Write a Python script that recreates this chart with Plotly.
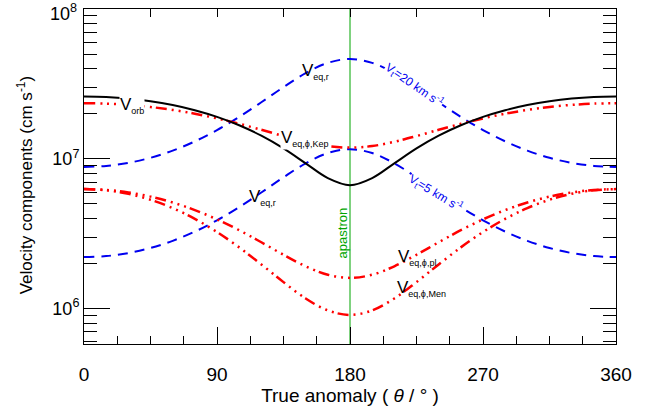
import math
import plotly.graph_objects as go

# ---------------- data ----------------
theta = [0, 15, 30, 45, 60, 75, 90, 105, 120, 135, 150, 165, 180,
         195, 210, 225, 240, 255, 270, 285, 300, 315, 330, 345, 360]

v_orb = [2.610e7, 2.589e7, 2.527e7, 2.425e7, 2.285e7, 2.110e7, 1.905e7, 1.675e7,
         1.427e7, 1.174e7, 9.334e6, 7.437e6, 6.668e6, 7.437e6, 9.334e6, 1.174e7,
         1.427e7, 1.675e7, 1.905e7, 2.110e7, 2.285e7, 2.425e7, 2.527e7, 2.589e7, 2.610e7]

v_kep = [2.350e7, 2.335e7, 2.291e7, 2.218e7, 2.120e7, 2.000e7, 1.862e7, 1.713e7,
         1.562e7, 1.419e7, 1.299e7, 1.217e7, 1.188e7, 1.217e7, 1.299e7, 1.419e7,
         1.562e7, 1.713e7, 1.862e7, 2.000e7, 2.120e7, 2.218e7, 2.291e7, 2.335e7, 2.350e7]

v_r20 = [8.832e6, 8.970e6, 9.398e6, 1.0162e7, 1.1343e7, 1.3074e7, 1.5551e7, 1.9040e7,
         2.3841e7, 3.0100e7, 3.7325e7, 4.3704e7, 4.6355e7, 4.3704e7, 3.7325e7, 3.0100e7,
         2.3841e7, 1.9040e7, 1.5551e7, 1.3074e7, 1.1343e7, 1.0162e7, 9.398e6, 8.970e6, 8.832e6]

v_r5 = [2.208e6, 2.242e6, 2.350e6, 2.540e6, 2.836e6, 3.268e6, 3.888e6, 4.760e6,
        5.960e6, 7.525e6, 9.331e6, 1.0926e7, 1.1589e7, 1.0926e7, 9.331e6, 7.525e6,
        5.960e6, 4.760e6, 3.888e6, 3.268e6, 2.836e6, 2.540e6, 2.350e6, 2.242e6, 2.208e6]

v_pl = [6.280e6, 6.200e6, 5.967e6, 5.595e6, 5.111e6, 4.547e6, 3.942e6, 3.337e6,
        2.773e6, 2.289e6, 1.918e6, 1.684e6, 1.604e6, 1.684e6, 1.918e6, 2.289e6,
        2.773e6, 3.337e6, 3.942e6, 4.547e6, 5.111e6, 5.595e6, 5.967e6, 6.200e6, 6.280e6]

v_men = [6.281e6, 6.168e6, 5.841e6, 5.333e6, 4.691e6, 3.974e6, 3.247e6, 2.564e6,
         1.973e6, 1.503e6, 1.1695e6, 9.729e5, 9.083e5, 9.729e5, 1.1695e6, 1.503e6,
         1.973e6, 2.564e6, 3.247e6, 3.974e6, 4.691e6, 5.333e6, 5.841e6, 6.168e6, 6.281e6]

apastron_theta = 180

x_major = [0, 90, 180, 270, 360]
x_minor = [22.5, 45, 67.5, 112.5, 135, 157.5, 202.5, 225, 247.5, 292.5, 315, 337.5]
x_top = [45, 90, 135, 180, 225, 270, 315]
y_major = [1e6, 1e7, 1e8]
y_major_text = ["10<sup>6</sup>", "10<sup>7</sup>", "10<sup>8</sup>"]
y_minor = [m * 10 ** d for d in (5, 6, 7) for m in range(2, 10)]

FONT = "Liberation Sans, Arial, Helvetica, sans-serif"
RED = "rgb(255,0,0)"
BLUE = "rgb(0,0,240)"
GREEN = "rgb(0,165,0)"
DDD = "11px,5px,2px,5px,2px,5px,2px,4px"

fig = go.Figure()

fig.add_trace(go.Scatter(x=theta, y=v_r20, mode="lines", line=dict(color=BLUE, width=2, dash="10px,7px", shape="spline")))
fig.add_trace(go.Scatter(x=theta, y=v_r5, mode="lines", line=dict(color=BLUE, width=2, dash="10px,7px", shape="spline")))
fig.add_trace(go.Scatter(x=theta, y=v_kep, mode="lines", line=dict(color=RED, width=2.5, dash=DDD, shape="spline")))
fig.add_trace(go.Scatter(x=theta, y=v_pl, mode="lines", line=dict(color=RED, width=2.5, dash=DDD, shape="spline")))
fig.add_trace(go.Scatter(x=theta, y=v_men, mode="lines", line=dict(color=RED, width=2.5, dash=DDD, shape="spline")))
fig.add_trace(go.Scatter(x=theta, y=v_orb, mode="lines", line=dict(color="black", width=2, shape="spline")))
# invisible trace to activate the top axis
fig.add_trace(go.Scatter(x=[None], y=[None], xaxis="x2", mode="lines", hoverinfo="skip"))

fig.add_shape(type="line", xref="x", yref="paper", x0=apastron_theta, x1=apastron_theta,
              y0=0, y1=1, line=dict(color=GREEN, width=1), layer="below")

sub = lambda s: "<sub><span style='font-size:9px'>%s</span></sub>" % s


def lab(x, y, text, bg=None):
    fig.add_annotation(x=x, y=y, yref="y", xref="x", text=text, showarrow=False,
                       font=dict(family=FONT, size=17, color="black"),
                       bgcolor=bg if bg else "rgba(0,0,0,0)", borderpad=0)


lab(32.5, math.log10(2.27e7), "V" + sub("orb"), bg="white")
lab(149, math.log10(1.375e7), "V" + sub("eq,ϕ,Kep"), bg="white")
lab(156.6, math.log10(3.85e7), "V" + sub("eq,r"))
lab(120.8, math.log10(5.55e6), "V" + sub("eq,r"))
lab(225.3, math.log10(2.2e6), "V" + sub("eq,ϕ,pl"))
lab(228.7, math.log10(1.36e6), "V" + sub("eq,ϕ,Men"))

fig.add_annotation(x=223.5, y=math.log10(3.12e7), text="V<sub>t</sub>=20 km s<sup>-1</sup>",
                   showarrow=False, textangle=35, bgcolor="white", borderpad=0,
                   font=dict(family=FONT, size=12, color=BLUE))
fig.add_annotation(x=238.0, y=math.log10(5.95e6), text="V<sub>t</sub>=5 km s<sup>-1</sup>",
                   showarrow=False, textangle=31, bgcolor="white", borderpad=0,
                   font=dict(family=FONT, size=12, color=BLUE))
fig.add_annotation(x=174.9, y=math.log10(3.2e6), text="apastron", showarrow=False, textangle=-90,
                   font=dict(family=FONT, size=13, color=GREEN))

# y-axis title as an annotation (placed as in the reference)
fig.add_annotation(xref="paper", yref="paper", x=-0.111, y=0.4735, xanchor="center", yanchor="middle",
                   text="Velocity components (cm s<sup>-1</sup>)", showarrow=False,
                   textangle=-90, font=dict(family=FONT, size=17, color="black"))
# top decade label (plotly drops the tick label at the very edge)
fig.add_annotation(xref="paper", yref="y", x=0, y=8, xanchor="right", yanchor="middle", xshift=-5,
                   yshift=-3, text=y_major_text[2], showarrow=False,
                   font=dict(family=FONT, size=18, color="black"))

fig.update_layout(
    width=659, height=410,
    margin=dict(l=84, r=43, t=8, b=62),
    paper_bgcolor="white", plot_bgcolor="white",
    showlegend=False,
    font=dict(family=FONT, size=18, color="black"),
    xaxis=dict(
        range=[0, 360], tickmode="array", tickvals=x_major, ticks="inside", ticklen=17,
        tickwidth=1, tickcolor="black", showline=True, linecolor="black", linewidth=1,
        mirror=True, showgrid=False, zeroline=False, tickfont=dict(size=19),
        ticklabelstandoff=13,
        minor=dict(tickmode="array", tickvals=x_minor, ticks="inside", ticklen=8, tickwidth=1,
                   tickcolor="black", showgrid=False),
        title=dict(text="True anomaly ( <i>θ</i> / ° )", font=dict(size=19), standoff=4),
    ),
    xaxis2=dict(
        overlaying="x", side="top", range=[0, 360], tickmode="array", tickvals=x_top,
        ticks="inside", ticklen=8, tickwidth=1, tickcolor="black", showticklabels=False,
        showline=False, showgrid=False, zeroline=False,
    ),
    yaxis=dict(
        type="log", range=[5.764, 8.0], tickmode="array", tickvals=y_major[:2], ticktext=y_major_text[:2],
        ticks="inside", ticklen=26, tickwidth=1, tickcolor="black", showline=True,
        linecolor="black", linewidth=1, mirror="ticks", showgrid=False, zeroline=False,
        tickfont=dict(size=18),
        minor=dict(tickmode="array", tickvals=y_minor, ticks="inside", ticklen=13, tickwidth=1,
                   tickcolor="black", showgrid=False),
    ),
)

fig.write_html("out.html")
